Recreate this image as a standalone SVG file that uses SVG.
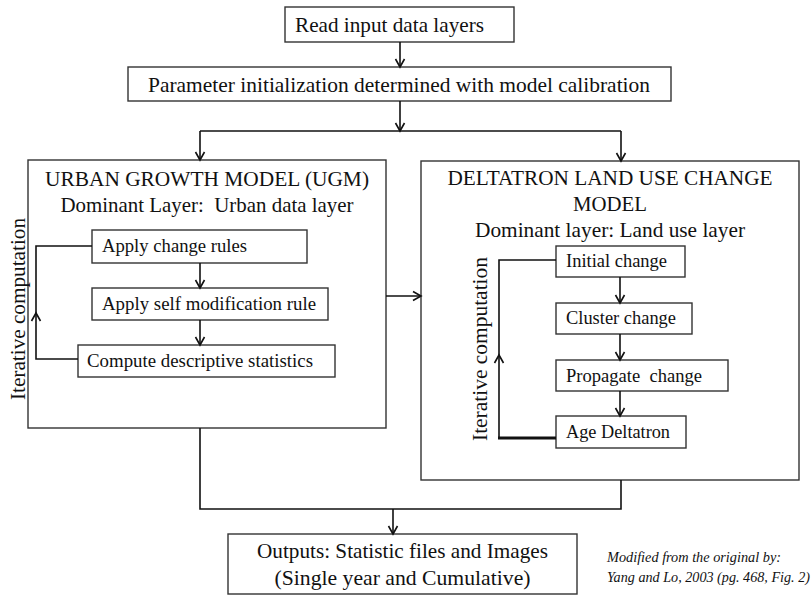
<svg xmlns="http://www.w3.org/2000/svg" width="812" height="596" viewBox="0 0 812 596" font-family="'Liberation Serif', Tinos, 'Times New Roman', 'DejaVu Serif', serif">
<defs>
<marker id="arr" markerUnits="userSpaceOnUse" markerWidth="14" markerHeight="14" viewBox="-11 -7 14 14" refX="0" refY="0" orient="auto">
<path d="M-8,-4.5 L0,0 L-8,4.5" fill="none" stroke="#111" stroke-width="1.6"/>
</marker>
</defs>
<style>
.box{fill:#fff;stroke:#333;stroke-width:1.4}
.c{fill:none;stroke:#111;stroke-width:1.6}
.thick{fill:none;stroke:#111;stroke-width:3}
text{font-family:'Liberation Serif',Tinos,'Times New Roman','DejaVu Serif',serif;fill:#111}
.t21{font-size:21px}
.t19{font-size:19px}
.mid{text-anchor:middle}
.note{font-size:14px;font-style:italic}
</style>
<rect width="812" height="596" fill="#fff"/>

<g id="read">
<rect class="box" x="285" y="7" width="229" height="35"/>
<text class="t21" x="295" y="32" textLength="189" lengthAdjust="spacingAndGlyphs">Read input data layers</text>
</g>
<g id="param">
<rect class="box" x="128" y="67" width="543" height="34"/>
<text class="t21" x="148" y="92" textLength="502" lengthAdjust="spacingAndGlyphs">Parameter initialization determined with model calibration</text>
</g>

<g id="ugm">
<rect class="box" x="28" y="160" width="358" height="268"/>
<text class="t21 mid" x="207" y="186" textLength="324" lengthAdjust="spacingAndGlyphs">URBAN GROWTH MODEL (UGM)</text>
<text class="t21 mid" x="207" y="212" textLength="293" lengthAdjust="spacingAndGlyphs">Dominant Layer:&#160; Urban data layer</text>
<text class="t21" transform="translate(25,400) rotate(-90)" textLength="182" lengthAdjust="spacingAndGlyphs">Iterative computation</text>
</g>
<g id="apply-change">
<rect class="box" x="92" y="230" width="215" height="33"/>
<text class="t19" x="102" y="252" textLength="145" lengthAdjust="spacingAndGlyphs">Apply change rules</text>
</g>
<g id="apply-self">
<rect class="box" x="92" y="288" width="236" height="32"/>
<text class="t19" x="102" y="310" textLength="214" lengthAdjust="spacingAndGlyphs">Apply self modification rule</text>
</g>
<g id="compute">
<rect class="box" x="78" y="345" width="257" height="32"/>
<text class="t19" x="87" y="367" textLength="226" lengthAdjust="spacingAndGlyphs">Compute descriptive statistics</text>
</g>

<g id="deltatron">
<rect class="box" x="421" y="161" width="378" height="319"/>
<text class="t21 mid" x="610" y="185" textLength="325" lengthAdjust="spacingAndGlyphs">DELTATRON LAND USE CHANGE</text>
<text class="t21 mid" x="610" y="211" textLength="74" lengthAdjust="spacingAndGlyphs">MODEL</text>
<text class="t21 mid" x="610" y="237" textLength="270" lengthAdjust="spacingAndGlyphs">Dominant layer: Land use layer</text>
<text class="t21" transform="translate(487,441) rotate(-90)" textLength="184" lengthAdjust="spacingAndGlyphs">Iterative computation</text>
</g>
<g id="initial">
<rect class="box" x="556" y="246" width="129" height="31"/>
<text class="t19" x="566" y="267" textLength="101" lengthAdjust="spacingAndGlyphs">Initial change</text>
</g>
<g id="cluster">
<rect class="box" x="556" y="303" width="136" height="31"/>
<text class="t19" x="566" y="324" textLength="110" lengthAdjust="spacingAndGlyphs">Cluster change</text>
</g>
<g id="propagate">
<rect class="box" x="556" y="360" width="172" height="31"/>
<text class="t19" x="566" y="382" textLength="136" lengthAdjust="spacingAndGlyphs">Propagate&#160; change</text>
</g>
<g id="age">
<rect class="box" x="556" y="416" width="130" height="32"/>
<text class="t19" x="566" y="438" textLength="104" lengthAdjust="spacingAndGlyphs">Age Deltatron</text>
</g>

<g id="outputs">
<rect class="box" x="228" y="534" width="349" height="60"/>
<text class="t21 mid" x="402.5" y="558" textLength="291" lengthAdjust="spacingAndGlyphs">Outputs: Statistic files and Images</text>
<text class="t21 mid" x="402.5" y="585" textLength="256" lengthAdjust="spacingAndGlyphs">(Single year and Cumulative)</text>
</g>

<g id="note">
<text class="note" x="607" y="562" textLength="174" lengthAdjust="spacingAndGlyphs">Modified from the original by:</text>
<text class="note" x="607" y="582" textLength="203" lengthAdjust="spacingAndGlyphs">Yang and Lo, 2003 (pg. 468, Fig. 2)</text>
</g>

<g id="connectors">
<line class="c" x1="400" y1="42" x2="400" y2="67" marker-end="url(#arr)"/>
<line class="c" x1="400" y1="101" x2="400" y2="131" marker-end="url(#arr)"/>
<line class="c" x1="200" y1="131" x2="621" y2="131"/>
<line class="c" x1="200" y1="131" x2="200" y2="160" marker-end="url(#arr)"/>
<line class="c" x1="621" y1="131" x2="621" y2="161" marker-end="url(#arr)"/>
<line class="c" x1="386" y1="296" x2="421" y2="296" marker-end="url(#arr)"/>
<line class="c" x1="200" y1="263" x2="200" y2="288" marker-end="url(#arr)"/>
<line class="c" x1="200" y1="320" x2="200" y2="345" marker-end="url(#arr)"/>
<path class="c" d="M78,359 H36 V246 H92"/>
<path class="c" d="M31.5,321 L36,313 L40.5,321"/>
<line class="c" x1="620" y1="277" x2="620" y2="303" marker-end="url(#arr)"/>
<line class="c" x1="620" y1="334" x2="620" y2="360" marker-end="url(#arr)"/>
<line class="c" x1="620" y1="391" x2="620" y2="416" marker-end="url(#arr)"/>
<path class="c" d="M556,260 H499 V438"/>
<line class="thick" x1="498" y1="438" x2="556" y2="438"/>
<path class="c" d="M494.5,363 L499,355 L503.5,363"/>
<path class="c" d="M200,428 V509 H621 V480"/>
<line class="c" x1="393" y1="509" x2="393" y2="534" marker-end="url(#arr)"/>
</g>
</svg>
